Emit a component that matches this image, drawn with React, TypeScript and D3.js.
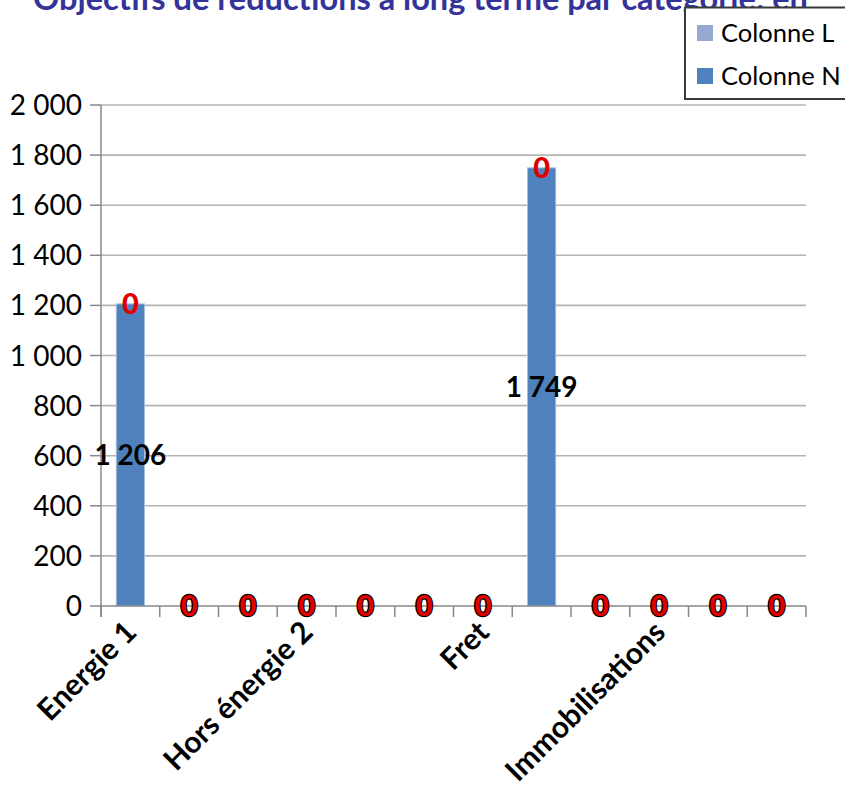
import React from 'react'
import * as d3 from 'd3'

const categories = [
  'Energie 1', 'c2', 'c3', 'Hors énergie 2', 'c5', 'c6',
  'Fret', 'c8', 'c9', 'Immobilisations', 'c11', 'c12'
]
const shownLabels = ['Energie 1', 'Hors énergie 2', 'Fret', 'Immobilisations']
const colonneN = [1206, 0, 0, 0, 0, 0, 0, 1749, 0, 0, 0, 0]
const colonneL = [0, 0, 0, 0, 0, 0, 0, 0, 0, 0, 0, 0]
const yTicks = [0, 200, 400, 600, 800, 1000, 1200, 1400, 1600, 1800, 2000]
const seriesNames = ['Colonne L', 'Colonne N']
const seriesColors = ['#95a9d1', '#4f81bd']

const title = 'Objectifs de réductions à long terme par catégorie: en'
const font = 'Lato, "Noto Sans", sans-serif'

const width = 845
const height = 796
const plot = { left: 101, right: 806, top: 105, bottom: 606 }

const fmt = (v: number) => d3.format(',')(v).replace(/,/g, ' ')

export default function App() {
  const x = d3.scaleBand<number>().domain(d3.range(categories.length)).range([plot.left, plot.right]).padding(0)
  const y = d3.scaleLinear().domain([0, 2000]).range([plot.bottom, plot.top])
  const bw = x.bandwidth()
  const barW = bw * 0.48

  return (
    <svg width={width} height={height} style={{ position: 'absolute', left: 0, top: 0, background: '#fff' }} fontFamily={font}>
      <rect x={0} y={0} width={width} height={height} fill="#fff" />
      {/* title, its top is cut off like in the source */}
      <text x={33} y={10} fontSize={32.5} fontWeight="bold" fill="#333399">{title}</text>

      {/* grid + y axis ticks */}
      {yTicks.map((t) => (
        <g key={t}>
          {t > 0 && <line x1={plot.left} x2={plot.right} y1={y(t)} y2={y(t)} stroke="#b4b4b4" strokeWidth={1.6} />}
          <line x1={plot.left - 11} x2={plot.left} y1={y(t)} y2={y(t)} stroke="#888" strokeWidth={1.5} />
          <text x={82} y={y(t)} dy="0.36em" textAnchor="end" fontSize={28} fill="#000">{fmt(t)}</text>
        </g>
      ))}

      {/* bars, N then L stacked on top */}
      {colonneN.map((v, i) => {
        const cx = (x(i) ?? 0) + bw / 2
        return (
          <g key={i}>
            {v > 0 && (
              <rect x={cx - barW / 2} y={y(v)} width={barW} height={y(0) - y(v)} fill={seriesColors[1]} stroke="#a7bfe0" strokeWidth={1} />
            )}
            {colonneL[i] > 0 && (
              <rect x={cx - barW / 2} y={y(v + colonneL[i])} width={barW} height={y(v) - y(v + colonneL[i])} fill={seriesColors[0]} />
            )}
          </g>
        )
      })}

      {/* axes */}
      <line x1={plot.left} x2={plot.left} y1={plot.top} y2={plot.bottom + 11} stroke="#888" strokeWidth={1.5} />
      <line x1={plot.left} x2={plot.right} y1={plot.bottom} y2={plot.bottom} stroke="#888" strokeWidth={1.5} />
      {d3.range(categories.length + 1).map((i) => {
        const xx = plot.left + i * bw
        return <line key={i} x1={xx} x2={xx} y1={plot.bottom} y2={plot.bottom + 11} stroke="#888" strokeWidth={1.5} />
      })}

      {/* data labels */}
      {colonneN.map((v, i) => {
        const cx = (x(i) ?? 0) + bw / 2
        const top = v + colonneL[i]
        return (
          <g key={i} fontWeight="900" textAnchor="middle">
            {v > 0 ? (
              <text x={cx} y={y(v / 2)} dy="0.36em" fontSize={28} fontWeight="bold" fill="#000">{fmt(v)}</text>
            ) : (
              <text x={cx} y={y(0)} dy="0.36em" fontSize={29} fill="#000" stroke="#000" strokeWidth={2.5}>{fmt(v)}</text>
            )}
            <text x={cx} y={y(top)} dy="0.36em" fontSize={29} fill="#e00000">{fmt(colonneL[i])}</text>
          </g>
        )
      })}

      {/* category labels */}
      {categories.map((c, i) => {
        if (!shownLabels.includes(c)) return null
        const cx = (x(i) ?? 0) + bw / 2 + 8
        return (
          <text key={c} transform={`translate(${cx},${plot.bottom + 28}) rotate(-45)`} textAnchor="end" fontSize={30} fontWeight="bold" fill="#000">{c}</text>
        )
      })}

      {/* legend */}
      <rect x={685} y={7.5} width={200} height={91.5} fill="#fff" stroke="#3a3a3a" strokeWidth={2} />
      {seriesNames.map((s, i) => (
        <g key={s} transform={`translate(697,${33 + i * 43})`}>
          <rect x={0} y={-8} width={16} height={16} fill={seriesColors[i]} />
          <text x={24} y={0} dy="0.36em" fontSize={25.5} fill="#000">{s}</text>
        </g>
      ))}
    </svg>
  )
}
